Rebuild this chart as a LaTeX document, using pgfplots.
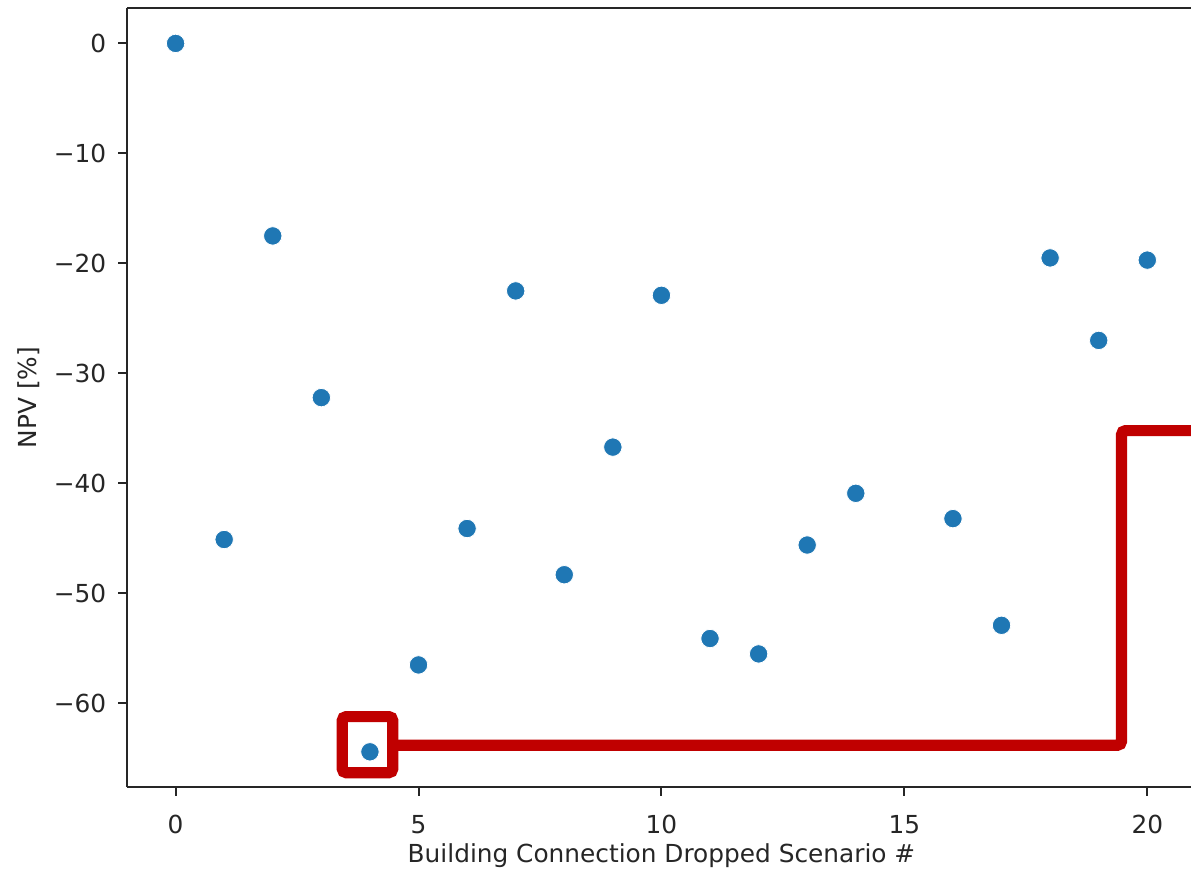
\documentclass[border=0pt]{standalone}
\usepackage{fontspec}
\setmainfont{DejaVu Sans}
\usepackage{pgfplots}
\pgfplotsset{compat=1.18}
\definecolor{mplblue}{HTML}{1F77B4}
\definecolor{hlred}{HTML}{C00000}
\definecolor{spine}{HTML}{262626}

\begin{document}
\fontsize{12.4}{15}\selectfont
\begin{tikzpicture}
  \begin{axis}[
    scale only axis,
    width=532pt, height=389.5pt,
    xmin=-1, xmax=20.9, ymin=-67.6, ymax=3.22,
    separate axis lines,
    axis x line*=bottom, axis y line*=left,
    axis line style={-, spine, line width=1pt},
    tick align=outside,
    major tick length=4.45pt,
    tick style={spine, line width=1pt},
    xtick={0,5,10,15,20},
    xticklabels={0,5,10,15,20},
    ytick={-60,-50,-40,-30,-20,-10,0},
    yticklabels={−60,−50,−40,−30,−20,−10,0},
    ticklabel style={font=\fontsize{12.4}{15}\selectfont, text=spine},
    xticklabel style={anchor=base, yshift=-19pt},
    yticklabel style={anchor=east, xshift=-1.6pt},
    every axis x label/.style={at={(axis description cs:0.5023,0)}, anchor=base, yshift=-37.5pt},
    every axis y label/.style={at={([xshift=-45pt]axis description cs:0,0.5)}, rotate=90, anchor=base},
    label style={font=\fontsize{12.4}{15}\selectfont, text=spine},
    xlabel={Building Connection Dropped Scenario \#},
    ylabel={NPV [\%]},
    clip=false,
  ]
    \coordinate (ll) at (rel axis cs:0,0);
    \coordinate (ur) at (rel axis cs:1,1);
    % top spine (right spine is outside the cropped image)
    \draw[spine, line width=1pt] (rel axis cs:0,1) -- (rel axis cs:1,1);

    \addplot[only marks, mark=*, mark size=4.6pt,
      mark options={fill=mplblue, draw=white, line width=0.4pt}]
      coordinates {
        (0, 0.0) (1, -45.1) (2, -17.5) (3, -32.2) (4, -64.4)
        (5, -56.5) (6, -44.1) (7, -22.5) (8, -48.3) (9, -36.7)
        (10, -22.9) (11, -54.1) (12, -55.5) (13, -45.6) (14, -40.9)
        (16, -43.2) (17, -52.9) (18, -19.5) (19, -27.0) (20, -19.7)
      };

    % highlight box and connector
    \draw[hlred, line width=5.6pt, rounded corners=2pt]
      (axis cs:3.43,-61.2) rectangle (axis cs:4.47,-66.3);
    \draw[hlred, line width=5.6pt, rounded corners=2pt]
      (axis cs:4.47,-63.8) -- (axis cs:19.47,-63.8) -- (axis cs:19.47,-35.2)
      -- (axis cs:20.9,-35.2);
  \end{axis}
  \pgfresetboundingbox
  \path[use as bounding box] ([shift={(-63.5pt,-41pt)}]ll) rectangle ([shift={(0pt,4pt)}]ur);
\end{tikzpicture}
\end{document}
